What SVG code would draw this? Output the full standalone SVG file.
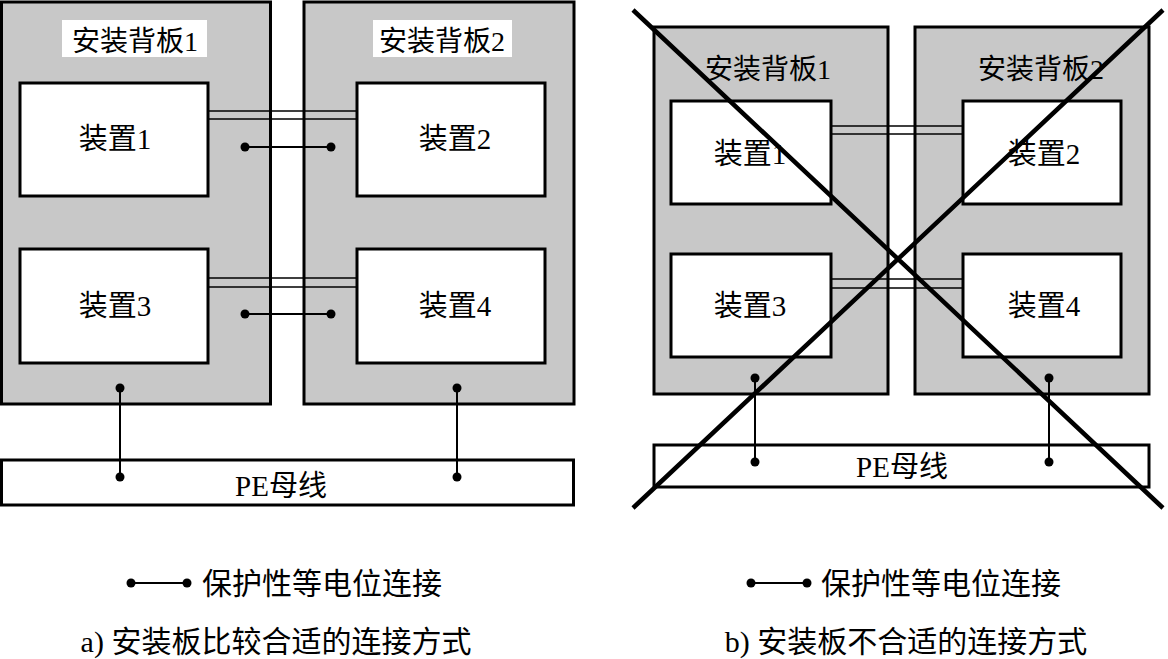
<svg xmlns="http://www.w3.org/2000/svg" width="1168" height="659" viewBox="0 0 1168 659">
<style>
.plate{fill:#c8c8c8;stroke:#000;stroke-width:3}
.dev{fill:#fff;stroke:#000;stroke-width:3}
.bus{fill:#fff;stroke:#000;stroke-width:3}
.t{font-family:"Liberation Serif","Noto Sans CJK SC",serif;fill:#000;text-anchor:middle}
.lbl{font-size:28px}
.dv{font-size:29px}
.cap{font-size:30px}
.w{stroke:#000;stroke-width:1.5;fill:none}
.pe{stroke:#000;stroke-width:2;fill:none}
.dot{fill:#000}
.x{stroke:#000;stroke-width:4.5;fill:none}
</style>
<rect width="1168" height="659" fill="#fff"/>

<!-- Panel a -->
<g id="a-plate1"><rect class="plate" x="1.5" y="2" width="269" height="402"/>
<rect x="62" y="20" width="145" height="37" fill="#fff"/>
<text class="t lbl" x="135" y="51">安装背板1</text></g>
<g id="a-plate2"><rect class="plate" x="304" y="2" width="270" height="402"/>
<rect x="373" y="20" width="139" height="37" fill="#fff"/>
<text class="t lbl" x="442" y="51">安装背板2</text></g>
<g id="a-dev1"><rect class="dev" x="20" y="83" width="188" height="113"/><text class="t dv" x="115" y="149">装置1</text></g>
<g id="a-dev2"><rect class="dev" x="357" y="83" width="188" height="113"/><text class="t dv" x="455" y="149">装置2</text></g>
<g id="a-dev3"><rect class="dev" x="20" y="249" width="188" height="114"/><text class="t dv" x="115" y="316">装置3</text></g>
<g id="a-dev4"><rect class="dev" x="357" y="249" width="188" height="114"/><text class="t dv" x="455" y="316">装置4</text></g>
<g id="a-bus"><rect class="bus" x="1.5" y="460" width="572" height="45"/><text class="t dv" x="281" y="496">PE母线</text></g>

<!-- Panel b -->
<g id="b-plate1"><rect class="plate" x="654" y="27" width="234" height="367"/><text class="t lbl" x="768" y="79">安装背板1</text></g>
<g id="b-plate2"><rect class="plate" x="915" y="27" width="234" height="367"/><text class="t lbl" x="1041" y="79">安装背板2</text></g>
<g id="b-dev1"><rect class="dev" x="671" y="101" width="160" height="103"/><text class="t dv" x="750" y="164">装置1</text></g>
<g id="b-dev2"><rect class="dev" x="963" y="101" width="158" height="103"/><text class="t dv" x="1044" y="164">装置2</text></g>
<g id="b-dev3"><rect class="dev" x="671" y="254" width="160" height="103"/><text class="t dv" x="750" y="316">装置3</text></g>
<g id="b-dev4"><rect class="dev" x="963" y="254" width="158" height="103"/><text class="t dv" x="1044" y="316">装置4</text></g>
<g id="b-bus"><rect class="bus" x="654" y="445" width="495" height="42"/><text class="t dv" x="902" y="477">PE母线</text></g>

<g id="connectors">
<!-- panel a -->
<path class="w" d="M208 111H357M208 119H357M208 278H357M208 287H357"/>
<path class="pe" d="M245 147H331M245 314H331M120 388V477M457 388V477"/>
<circle class="dot" cx="245" cy="147" r="4.5"/><circle class="dot" cx="331" cy="147" r="4.5"/>
<circle class="dot" cx="245" cy="314" r="4.5"/><circle class="dot" cx="331" cy="314" r="4.5"/>
<circle class="dot" cx="120" cy="388" r="4.5"/><circle class="dot" cx="457" cy="388" r="4.5"/>
<circle class="dot" cx="120" cy="477" r="4.5"/><circle class="dot" cx="457" cy="477" r="4.5"/>
<!-- panel b -->
<path class="w" d="M831 126H963M831 134H963M831 279H963M831 288H963"/>
<path class="pe" d="M755 378V462M1049 378V462"/>
<circle class="dot" cx="755" cy="378" r="4.5"/><circle class="dot" cx="1049" cy="378" r="4.5"/>
<circle class="dot" cx="755" cy="462" r="4.5"/><circle class="dot" cx="1049" cy="462" r="4.5"/>
<path class="x" d="M633 10L1163 508M1163 10L633 508"/>
<!-- legends -->
<path class="pe" d="M131 583H187M751 583H807"/>
<circle class="dot" cx="131" cy="583" r="4.5"/><circle class="dot" cx="187" cy="583" r="4.5"/>
<circle class="dot" cx="751" cy="583" r="4.5"/><circle class="dot" cx="807" cy="583" r="4.5"/>
</g>

<g id="legend-a"><text class="t cap" x="322" y="594">保护性等电位连接</text></g>
<g id="legend-b"><text class="t cap" x="941" y="594">保护性等电位连接</text></g>
<g id="caption-a"><text class="t cap" x="276" y="652">a) 安装板比较合适的连接方式</text></g>
<g id="caption-b"><text class="t cap" x="906" y="652">b) 安装板不合适的连接方式</text></g>
</svg>
